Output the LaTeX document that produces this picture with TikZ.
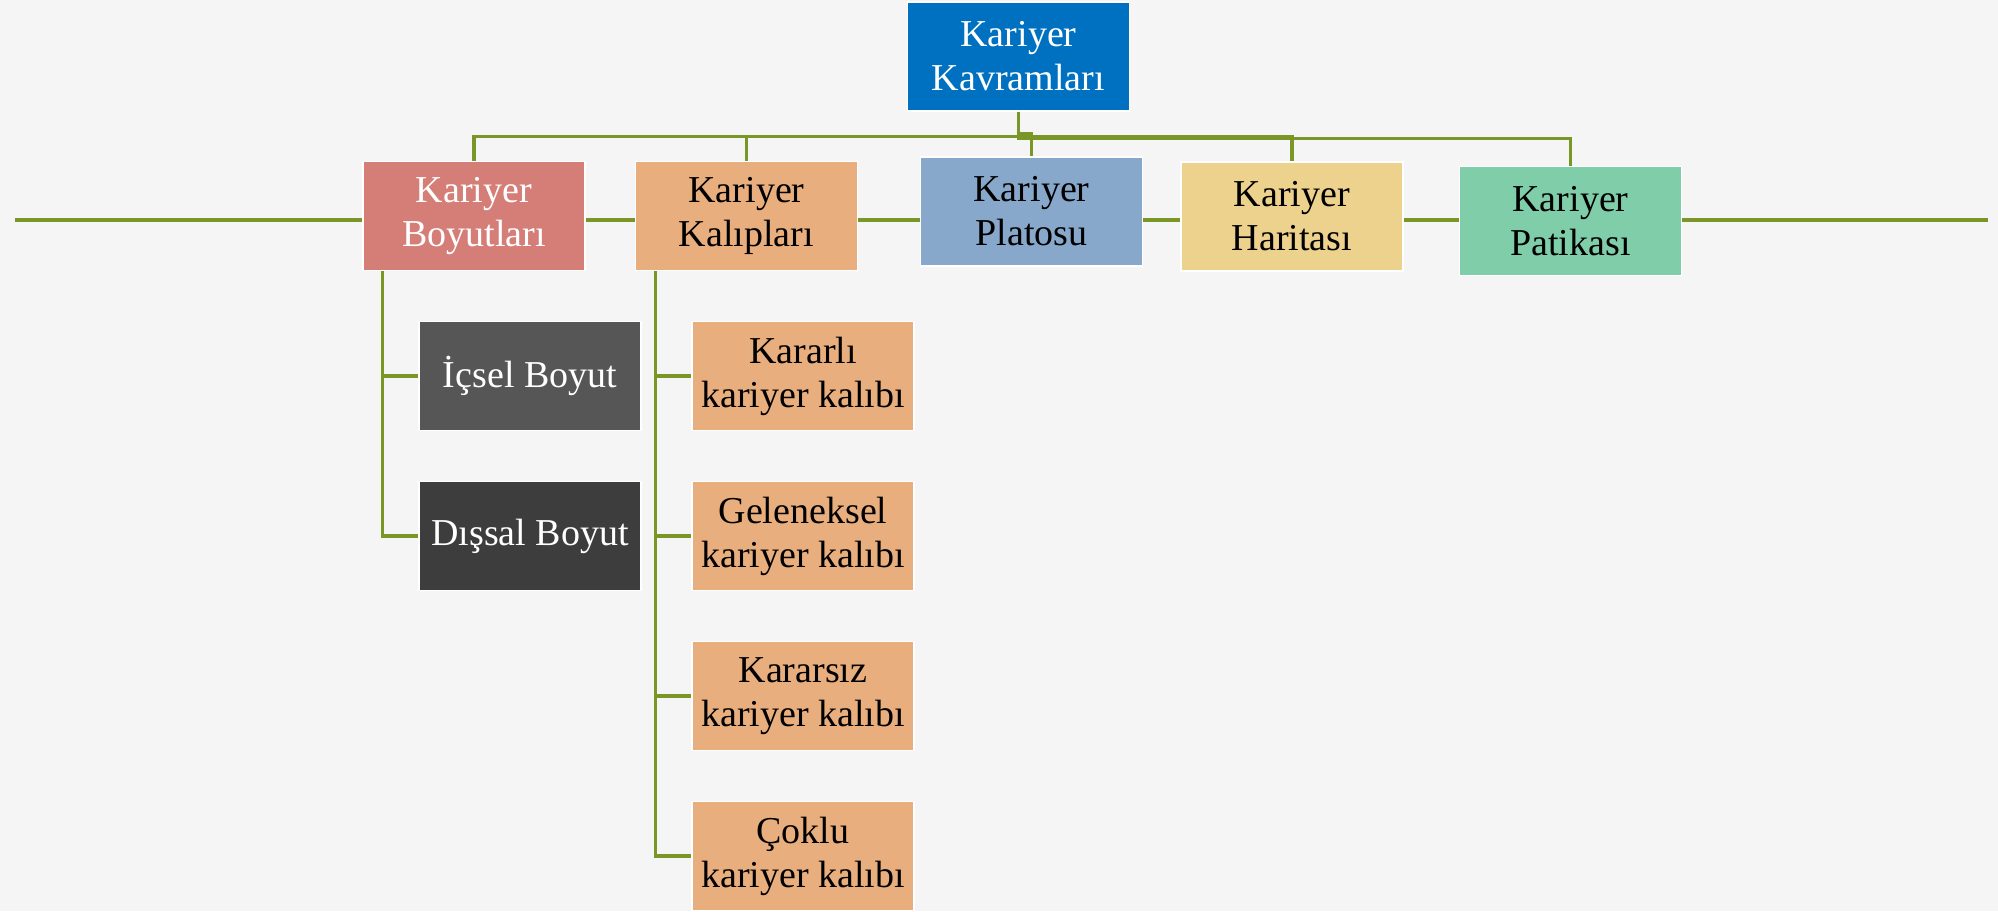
\documentclass[tikz,border=0pt]{standalone}
\usepackage{fontspec}
\setmainfont{Liberation Serif}
\usepackage{tikz}
\usetikzlibrary {positioning, calc}

\definecolor{paper}{RGB}{245,245,245}
\definecolor{linkgreen}{RGB}{122,150,38}
\definecolor{kavramblue}{RGB}{0,112,192}
\definecolor{boyutrose}{RGB}{213,126,120}
\definecolor{kalipsand}{RGB}{233,174,126}
\definecolor{platoblue}{RGB}{135,168,203}
\definecolor{haritasand}{RGB}{236,210,140}
\definecolor{patikagreen}{RGB}{128,205,170}
\definecolor{icgray}{RGB}{86,86,86}
\definecolor{disgray}{RGB}{61,61,61}

\begin{document}
\begin{tikzpicture}[
    x=1pt,
    y=-1pt,
    node distance=160pt,
    on grid,
    box/.style={draw=white, line width=1.5pt, minimum width=222pt,
        minimum height=109pt, inner sep=0pt, align=center,
        font=\fontsize{38}{44}\selectfont},
    link/.style={draw=linkgreen, line width=3.2pt},
]

    \fill[paper] (0,0) rectangle (1998,911);
    \useasboundingbox (0,0) rectangle (1998,911);

    \coordinate (W) at (15,220);
    \coordinate (E) at (1988,220);
    \draw[link] (W) -- (E);

    \node[box, fill=kavramblue, text=white] (kavram) at (1018.5,56.5) {Kariyer\\Kavramları};

    \node[box, fill=boyutrose, text=white] (boyut)  at (474,216)      {Kariyer\\Boyutları};
    \node[box, fill=kalipsand]             (kalip)  at (746.5,216)    {Kariyer\\Kalıpları};
    \node[box, fill=platoblue]             (plato)  at (1031.5,211.5) {Kariyer\\Platosu};
    \node[box, fill=haritasand]            (harita) at (1292,216.5)   {Kariyer\\Haritası};
    \node[box, fill=patikagreen]           (patika) at (1570.5,221)   {Kariyer\\Patikası};

    \node[box, fill=icgray,  text=white, below right=160pt and 56pt of boyut] (icsel)  {İçsel Boyut};
    \node[box, fill=disgray, text=white, below =of icsel]                     (dissal) {Dışsal Boyut};

    \node[box, fill=kalipsand, below right=160pt and 56.5pt of kalip] (kararli)    {Kararlı\\kariyer kalıbı};
    \node[box, fill=kalipsand, below =of kararli]                     (geleneksel) {Geleneksel\\kariyer kalıbı};
    \node[box, fill=kalipsand, below =of geleneksel]                  (kararsiz)   {Kararsız\\kariyer kalıbı};
    \node[box, fill=kalipsand, below =of kararsiz]                    (coklu)      {Çoklu\\kariyer kalıbı};

    \draw[link] (kavram.south) |- ($(kavram.south)!.5!(boyut.north)$)  -| (boyut.north);
    \draw[link] (kavram.south) |- ($(kavram.south)!.5!(kalip.north)$)  -| (kalip.north);
    \draw[link] (kavram.south) |- ($(kavram.south)!.5!(plato.north)$)  -| (plato.north);
    \draw[link] (kavram.south) |- ($(kavram.south)!.5!(harita.north)$) -| (harita.north);
    \draw[link] (kavram.south) |- ($(kavram.south)!.5!(patika.north)$) -| (patika.north);

    \draw[link] ([xshift=20pt]boyut.south west) |- (icsel.west);
    \draw[link] ([xshift=20pt]boyut.south west) |- (dissal.west);

    \draw[link] ([xshift=21pt]kalip.south west) |- (kararli.west);
    \draw[link] ([xshift=21pt]kalip.south west) |- (geleneksel.west);
    \draw[link] ([xshift=21pt]kalip.south west) |- (kararsiz.west);
    \draw[link] ([xshift=21pt]kalip.south west) |- (coklu.west);
\end{tikzpicture}
\end{document}
